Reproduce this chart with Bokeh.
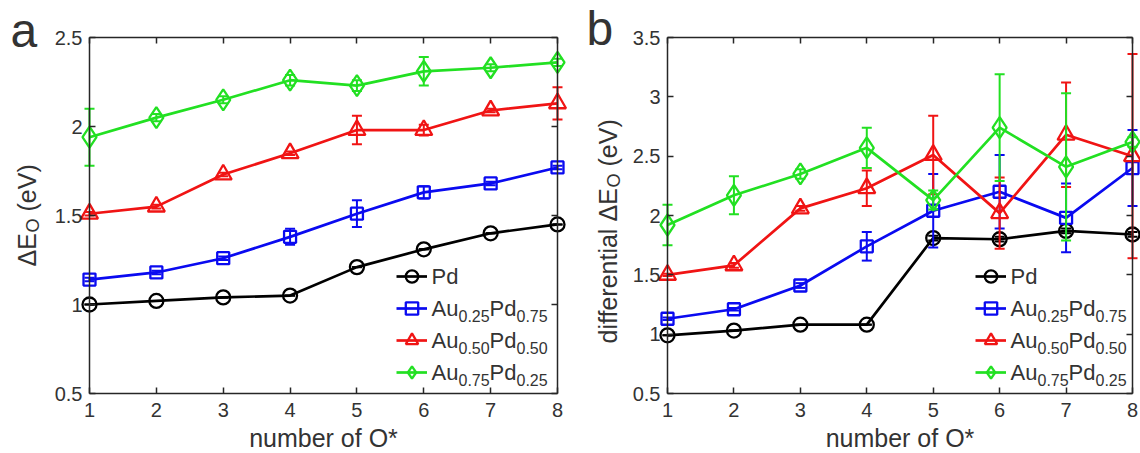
import math
from bokeh.plotting import figure
from bokeh.layouts import row
from bokeh.models import Range1d, FixedTicker, LinearAxis, Label, Legend, LegendItem
from bokeh.embed import file_html
from bokeh.resources import INLINE

# ---------------- data ----------------
x_o = [1, 2, 3, 4, 5, 6, 7, 8]
x_ticks = [1, 2, 3, 4, 5, 6, 7, 8]

ya_ticks = [0.5, 1.0, 1.5, 2.0, 2.5]
ya_labels = ["0.5", "1", "1.5", "2", "2.5"]
yb_ticks = [0.5, 1.0, 1.5, 2.0, 2.5, 3.0, 3.5]
yb_labels = ["0.5", "1", "1.5", "2", "2.5", "3", "3.5"]

# legend parts: (main, sub, main, sub)
legend_parts = [
    ["Pd"],
    ["Au", "0.25", "Pd", "0.75"],
    ["Au", "0.50", "Pd", "0.50"],
    ["Au", "0.75", "Pd", "0.25"],
]

# panel a : Delta E_O
a_pd = [1.00, 1.02, 1.04, 1.05, 1.21, 1.31, 1.40, 1.45]
a_pd_err = [0.0, 0.0, 0.0, 0.0, 0.0, 0.0, 0.0, 0.0]
a_au25 = [1.14, 1.18, 1.26, 1.38, 1.51, 1.63, 1.68, 1.77]
a_au25_err = [0.01, 0.01, 0.01, 0.045, 0.075, 0.035, 0.01, 0.01]
a_au50 = [1.51, 1.55, 1.73, 1.85, 1.98, 1.98, 2.09, 2.13]
a_au50_err = [0.01, 0.01, 0.01, 0.01, 0.08, 0.03, 0.01, 0.09]
a_au75 = [1.94, 2.05, 2.15, 2.26, 2.23, 2.31, 2.33, 2.36]
a_au75_err = [0.16, 0.02, 0.02, 0.03, 0.03, 0.08, 0.02, 0.02]

# panel b : differential Delta E_O
b_pd = [0.99, 1.03, 1.08, 1.08, 1.81, 1.80, 1.87, 1.84]
b_pd_err = [0.0, 0.0, 0.0, 0.0, 0.02, 0.02, 0.02, 0.02]
b_au25 = [1.13, 1.21, 1.41, 1.74, 2.04, 2.20, 1.98, 2.40]
b_au25_err = [0.01, 0.01, 0.02, 0.12, 0.31, 0.31, 0.29, 0.32]
b_au50 = [1.50, 1.58, 2.06, 2.23, 2.51, 2.02, 2.68, 2.50]
b_au50_err = [0.01, 0.02, 0.02, 0.15, 0.33, 0.30, 0.44, 0.86]
b_au75 = [1.92, 2.17, 2.35, 2.57, 2.13, 2.74, 2.41, 2.62]
b_au75_err = [0.17, 0.16, 0.04, 0.17, 0.08, 0.45, 0.62, 0.04]

# ---------------- style ----------------
FONT = "Liberation Sans"
TXT = "#333333"
AX = "#262626"
colors = ["#000000", "#0A0AF0", "#F01414", "#22E022"]
markers = ["circle", "square", "triangle", "diamond"]
msizes = [14, 12, 17, 21]
W = 570
H = 453
BOX_T, BOX_B = 37, 393   # plot box top / bottom, pixels from figure top


def style_axis(ax, labels=True):
    ax.axis_line_color = AX
    ax.axis_line_width = 1.5
    ax.major_tick_line_color = AX
    ax.major_tick_line_width = 1.5
    ax.major_tick_in = 6
    ax.major_tick_out = 0
    ax.minor_tick_line_color = None
    ax.major_label_text_font = FONT
    ax.major_label_text_color = TXT
    if labels:
        ax.major_label_text_font_size = "20px"
    else:
        ax.major_label_text_font_size = "1px"
        ax.major_label_text_alpha = 0
        ax.major_label_standoff = 0


def lab(p, text, fx, fy, size, align="left", baseline="middle", angle=0.0):
    # fx, fy: pixels from the figure's top-left corner
    p.add_layout(Label(x=fx, y=H - fy, x_units="screen", y_units="screen", text=text,
                       text_font=FONT, text_font_size=size, text_color=TXT,
                       text_align=align, text_baseline=baseline, angle=angle))


def panel(box_l, box_r, ylo, yhi, yticks, ylabels, series, errs,
          letter, letter_x, letter_y, ylab_parts, ylab_x, ylab_y, leg_x, text_x):
    sx = (box_r - box_l) / 7.0
    sy = (BOX_B - BOX_T) / (yhi - ylo)
    xr = Range1d(1 - box_l / sx, 8 + (W - box_r) / sx)
    yr = Range1d(ylo - (H - BOX_B) / sy, yhi + BOX_T / sy)
    p = figure(width=W, height=H, x_range=xr, y_range=yr,
               output_backend="svg", toolbar_location=None,
               min_border=0, min_border_left=0, min_border_right=0,
               min_border_top=0, min_border_bottom=0,
               x_axis_location=None, y_axis_location=None)
    p.xgrid.visible = False
    p.ygrid.visible = False
    p.outline_line_color = None
    p.background_fill_color = "white"
    p.border_fill_color = "white"

    xl = LinearAxis(ticker=FixedTicker(ticks=x_ticks), fixed_location=ylo, bounds=(1, 8))
    style_axis(xl)
    xl.major_label_standoff = 9
    p.add_layout(xl, "below")
    yl = LinearAxis(ticker=FixedTicker(ticks=yticks), fixed_location=1, bounds=(ylo, yhi),
                    major_label_overrides=dict(zip(yticks, ylabels)))
    style_axis(yl)
    yl.major_label_standoff = 7
    p.add_layout(yl, "left")
    xt = LinearAxis(ticker=FixedTicker(ticks=x_ticks), fixed_location=yhi, bounds=(1, 8))
    style_axis(xt, labels=False)
    p.add_layout(xt, "above")
    yrt = LinearAxis(ticker=FixedTicker(ticks=yticks), fixed_location=8, bounds=(ylo, yhi))
    style_axis(yrt, labels=False)
    p.add_layout(yrt, "right")

    items = []
    for vals, err, c, m, s in zip(series, errs, colors, markers, msizes):
        lo = [v - e for v, e in zip(vals, err)]
        hi = [v + e for v, e in zip(vals, err)]
        p.segment(x0=x_o, y0=lo, x1=x_o, y1=hi, line_color=c, line_width=2)
        p.scatter(x=x_o, y=hi, marker="dash", size=10, line_color=c, line_width=2)
        p.scatter(x=x_o, y=lo, marker="dash", size=10, line_color=c, line_width=2)
        lr = p.line(x=x_o, y=vals, line_color=c, line_width=2.7)
        mr = p.scatter(x=x_o, y=vals, marker=m, size=s, line_color=c, line_width=2.3,
                       fill_color=None)
        items.append(LegendItem(label=" ", renderers=[lr, mr]))

    # legend samples (texts with subscripts are drawn as labels below)
    row_y = [276, 308, 340, 372]
    leg = Legend(items=items, location=(leg_x, H - (row_y[-1] + 16)), glyph_width=31,
                 glyph_height=32, label_height=32, spacing=0, padding=0, margin=0,
                 label_text_font_size="1px", label_standoff=0,
                 border_line_color=None, background_fill_alpha=0)
    p.add_layout(leg)
    for parts, ry in zip(legend_parts, row_y):
        lab(p, parts[0], text_x, ry, "22px")
        if len(parts) > 1:
            lab(p, parts[1], text_x + 27, ry + 7, "16px")
            lab(p, parts[2], text_x + 58, ry, "22px")
            lab(p, parts[3], text_x + 85, ry + 7, "16px")

    # panel letter
    lab(p, letter, letter_x, letter_y, "48px")
    # x label
    lab(p, "number of O*", (box_l + box_r) / 2, 437, "25px", align="center")
    # y label (rotated, reads bottom-to-top, with subscript)
    yy = ylab_y
    for txt, dx, sz, adv in ylab_parts:
        lab(p, txt, ylab_x + dx, yy, sz, angle=math.pi / 2)
        yy -= adv
    return p


ylab_a = [("\u0394E", 0, "25px", 34), ("O", 6, "18px", 21), ("(eV)", 0, "25px", 0)]
ylab_b = [("differential", 0, "25px", 122), ("\u0394E", 0, "25px", 34),
          ("O", 6, "18px", 21), ("(eV)", 0, "25px", 0)]

pa = panel(89, 557, 0.5, 2.5, ya_ticks, ya_labels,
           [a_pd, a_au25, a_au50, a_au75], [a_pd_err, a_au25_err, a_au50_err, a_au75_err],
           "a", 10, 30, ylab_a, 26, 266, 396, 431)
pb = panel(97, 562, 0.5, 3.5, yb_ticks, yb_labels,
           [b_pd, b_au25, b_au50, b_au75], [b_pd_err, b_au25_err, b_au50_err, b_au75_err],
           "b", 16, 28, ylab_b, 37, 343, 405, 440)

layout = row(pa, pb)
open("out.html", "w").write(file_html(layout, INLINE))
